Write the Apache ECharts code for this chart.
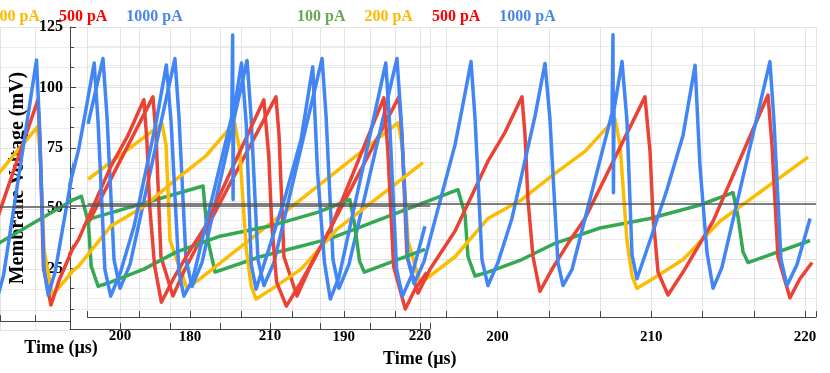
<!DOCTYPE html>
<html>
<head>
<meta charset="utf-8">
<script src="https://cdn.jsdelivr.net/npm/echarts@6/dist/echarts.min.js"></script>
<style>
  html, body { margin: 0; padding: 0; background: #fff; }
  #main { width: 830px; height: 373px; }
</style>
</head>
<body>
<div id="main"></div>
<script type="text/javascript">
    // 数据 (时间 µs, 膜电压 mV)
    var names = ['100 pA', '200 pA', '500 pA', '1000 pA'];

    var tGreen = [173.37, 180.85, 181.17, 181.63, 184.55, 189.11, 194.96, 197.43, 197.89, 198.08, 198.54, 199.38, 201.59,
        203.74, 206.67, 209.92, 213.17, 215.32, 215.64, 215.97, 216.29, 220.33];
    var vGreen = [42.1, 56.5, 33.0, 19.4, 26.0, 33.8, 48.7, 54.9, 44.1, 26.0, 17.7, 19.4, 24.8,
        31.8, 38.4, 42.5, 48.3, 53.6, 43.3, 28.1, 23.5, 33.0];

    var tOrange = [173.37, 178.18, 178.44, 178.70, 179.80, 180.65, 193.53, 193.79, 194.18, 194.96, 197.24, 199.38, 201.59,
        203.74, 205.69, 207.64, 207.97, 208.42, 208.75, 209.07, 210.11, 212.07, 214.47, 220.20];
    var vOrange = [59.4, 83.3, 74.3, 33.0, 12.4, 16.5, 83.7, 74.3, 33.0, 14.4, 26.0, 42.5, 50.7,
        61.9, 71.4, 85.4, 74.3, 33.0, 17.7, 12.4, 16.5, 24.8, 41.3, 68.9];

    var tRed = [173.37, 177.59, 177.79, 178.11, 178.89, 179.67, 185.59, 185.79, 186.11, 186.96, 187.74, 193.59, 193.79, 194.11,
        194.83, 195.61, 197.24, 199.38, 200.49, 201.59, 201.79, 201.98, 202.31, 202.76, 203.54, 204.59, 205.69, 209.59,
        209.92, 210.11, 210.44, 211.09, 212.07, 214.02, 217.59, 217.85, 218.24, 219.02, 219.67, 220.46];
    var vRed = [40.4, 94.9, 78.4, 26.0, 9.1, 20.6, 94.9, 78.4, 26.0, 9.1, 20.6, 94.9, 78.4, 26.0,
        10.3, 20.6, 37.1, 67.2, 79.6, 94.9, 78.4, 50.7, 26.0, 11.1, 20.6, 31.8, 42.5, 94.9,
        71.4, 44.1, 19.4, 9.5, 19.4, 41.3, 95.7, 74.3, 26.0, 8.3, 16.5, 23.5];

    var tBlue = [173.37, 174.34, 174.60, 175.06, 175.45, 176.10, 179.02, 179.28, 179.74, 180.13, 180.78,
        183.71, 183.97, 184.42, 184.81, 185.46, 188.59, 188.85, 189.30, 189.69, 190.34,
        193.46, 193.72, 194.18, 194.57, 195.22, 197.24, 197.69, 198.28, 198.54, 198.99, 199.38, 200.03,
        200.94, 202.44, 203.09, 203.41, 203.93, 204.26, 204.85, 207.45, 207.51, 207.54, 207.58, 208.10,
        208.42, 208.75, 209.07, 209.92, 211.02, 212.07, 212.85, 213.17, 213.63, 214.02, 214.60,
        217.72, 217.98, 218.44, 218.83, 219.48, 220.33];
    var vBlue = [83.3, 111.4, 86.6, 24.8, 12.4, 22.7, 111.4, 86.6, 24.8, 13.2, 23.5,
        110.6, 86.6, 24.8, 13.6, 23.5, 111.4, 86.6, 24.8, 12.4, 22.7,
        111.4, 86.6, 24.8, 14.4, 23.9, 74.3, 89.5, 110.1, 85.4, 24.8, 13.6, 23.5,
        42.5, 86.6, 109.3, 85.4, 23.5, 13.6, 20.6, 87.9, 121.7, 53.6, 89.5, 110.1,
        84.6, 26.8, 16.5, 33.0, 54.9, 78.4, 108.5, 64.8, 27.6, 12.4, 21.5,
        110.1, 84.6, 24.8, 13.6, 22.7, 42.5];

    var yTicks = [25, 50, 75, 100, 125];
    var xTickLabels = [180, 190, 200, 210, 220];

    var FONT = 'Liberation Serif';
    var lineColors = ['#34A853', '#FBBC04', '#EA4335', '#4285F4'];
    var textColors = ['#6AA84F', '#FFB800', '#FF0000', '#4A86E8'];
    var traces = [[tGreen, vGreen], [tOrange, vOrange], [tRed, vRed], [tBlue, vBlue]];

    function pairs(t, v) {
        return t.map(function (x, i) { return [x, v[i]]; });
    }
    // 只显示 10 的整数倍
    function tenOnly(v) {
        var r = Math.round(v);
        if (Math.abs(v - r) < 0.01 && xTickLabels.indexOf(r) >= 0) return String(r);
        return '';
    }

    var myChart = echarts.init(document.getElementById('main'));

    function xAxisFor(grid, min, max, extra) {
        var ax = {
            type: 'value', gridIndex: grid, min: min, max: max, interval: 10 / 3,
            axisLine: {show: true, onZero: false, lineStyle: {color: '#444', width: 1}},
            axisTick: {show: true, inside: true, length: 6, lineStyle: {color: '#444'}},
            axisLabel: {formatter: tenOnly, color: '#000', fontFamily: FONT, fontWeight: 'bold', fontSize: 15, margin: 6},
            splitLine: {show: true, lineStyle: {color: '#e3e3e3', width: 1}}
        };
        for (var k in extra) ax[k] = extra[k];
        return ax;
    }
    function yAxisFor(grid, extra) {
        var ax = {
            type: 'value', gridIndex: grid, min: 0, max: 125, interval: 25,
            axisLine: {show: false},
            axisTick: {show: false},
            axisLabel: {show: false},
            splitLine: {show: true, lineStyle: {color: '#e3e3e3', width: 1}},
            minorTick: {show: false, splitNumber: 3},
            minorSplitLine: {show: true, lineStyle: {color: '#ececec', width: 1}}
        };
        for (var k in extra) ax[k] = extra[k];
        return ax;
    }

    var series = [];
    var refLine = [48.7, 50.9, 50.9];
    [0, 1, 2].forEach(function (g) {
        traces.forEach(function (tr, i) {
            var s = {
                name: names[i], type: 'line', xAxisIndex: g, yAxisIndex: g,
                showSymbol: false, symbol: 'none', clip: true,
                lineStyle: {width: 3.5, color: lineColors[i], join: 'round'},
                color: lineColors[i],
                data: pairs(tr[0], tr[1])
            };
            if (i === 0) {
                s.markLine = {
                    silent: true, symbol: 'none', label: {show: false},
                    lineStyle: {color: '#555', width: 1.5, type: 'solid'},
                    data: [{yAxis: refLine[g]}]
                };
            }
            series.push(s);
        });
    });

    var legendData = names.map(function (n, i) {
        return {name: n, textStyle: {color: textColors[i]}};
    });
    function legendAt(left) {
        return {
            left: left, top: 4, itemWidth: 0, itemHeight: 0, itemGap: 13,
            textStyle: {fontFamily: FONT, fontWeight: 'bold', fontSize: 16},
            data: legendData
        };
    }

    var option = {
        animation: false,
        backgroundColor: '#fff',
        legend: [legendAt(286), legendAt(-87)],
        grid: [
            {left: 87.5, right: 14, top: 27, bottom: 43},
            {left: 70, right: 400, top: 27, bottom: 44},
            {left: -32, right: 760, top: 27, bottom: 43}
        ],
        xAxis: [
            xAxisFor(0, 520 / 3, 220.715, {
                axisLabel: {formatter: tenOnly, color: '#000', fontFamily: FONT, fontWeight: 'bold', fontSize: 15, margin: 13},
                name: 'Time (µs)', nameLocation: 'middle', nameGap: 16,
                nameTextStyle: {color: '#000', fontFamily: FONT, fontWeight: 'bold', fontSize: 18, padding: [0, 64, 0, 0]}
            }),
            xAxisFor(1, 590 / 3, 662 / 3, {
                axisLabel: {formatter: tenOnly, color: '#000', fontFamily: FONT, fontWeight: 'bold', fontSize: 15, margin: 0}
            }),
            xAxisFor(2, 190, 196.634, {
                offset: -9,
                axisLabel: {show: false},
                name: 'Time (µs)', nameLocation: 'middle', nameGap: 18,
                nameTextStyle: {color: '#000', fontFamily: FONT, fontWeight: 'bold', fontSize: 18, padding: [0, 0, 0, 52]}
            })
        ],
        yAxis: [
            yAxisFor(0, {}),
            yAxisFor(1, {
                axisLine: {show: true, lineStyle: {color: '#444', width: 1}},
                axisTick: {show: true, inside: true, length: 6, lineStyle: {color: '#444'}},
                minorTick: {show: true, splitNumber: 3, length: 4, lineStyle: {color: '#444'}},
                axisLabel: {
                    show: true, color: '#000', fontFamily: FONT, fontWeight: 'bold', fontSize: 16, margin: 7,
                    formatter: function (v) { return yTicks.indexOf(v) >= 0 ? String(v) : ''; }
                },
                name: 'Membrane Voltage (mV)', nameLocation: 'middle', nameGap: 42,
                nameTextStyle: {color: '#000', fontFamily: FONT, fontWeight: 'bold', fontSize: 20}
            }),
            yAxisFor(2, {})
        ],
        series: series
    };
    myChart.setOption(option);
</script>
</body>
</html>
